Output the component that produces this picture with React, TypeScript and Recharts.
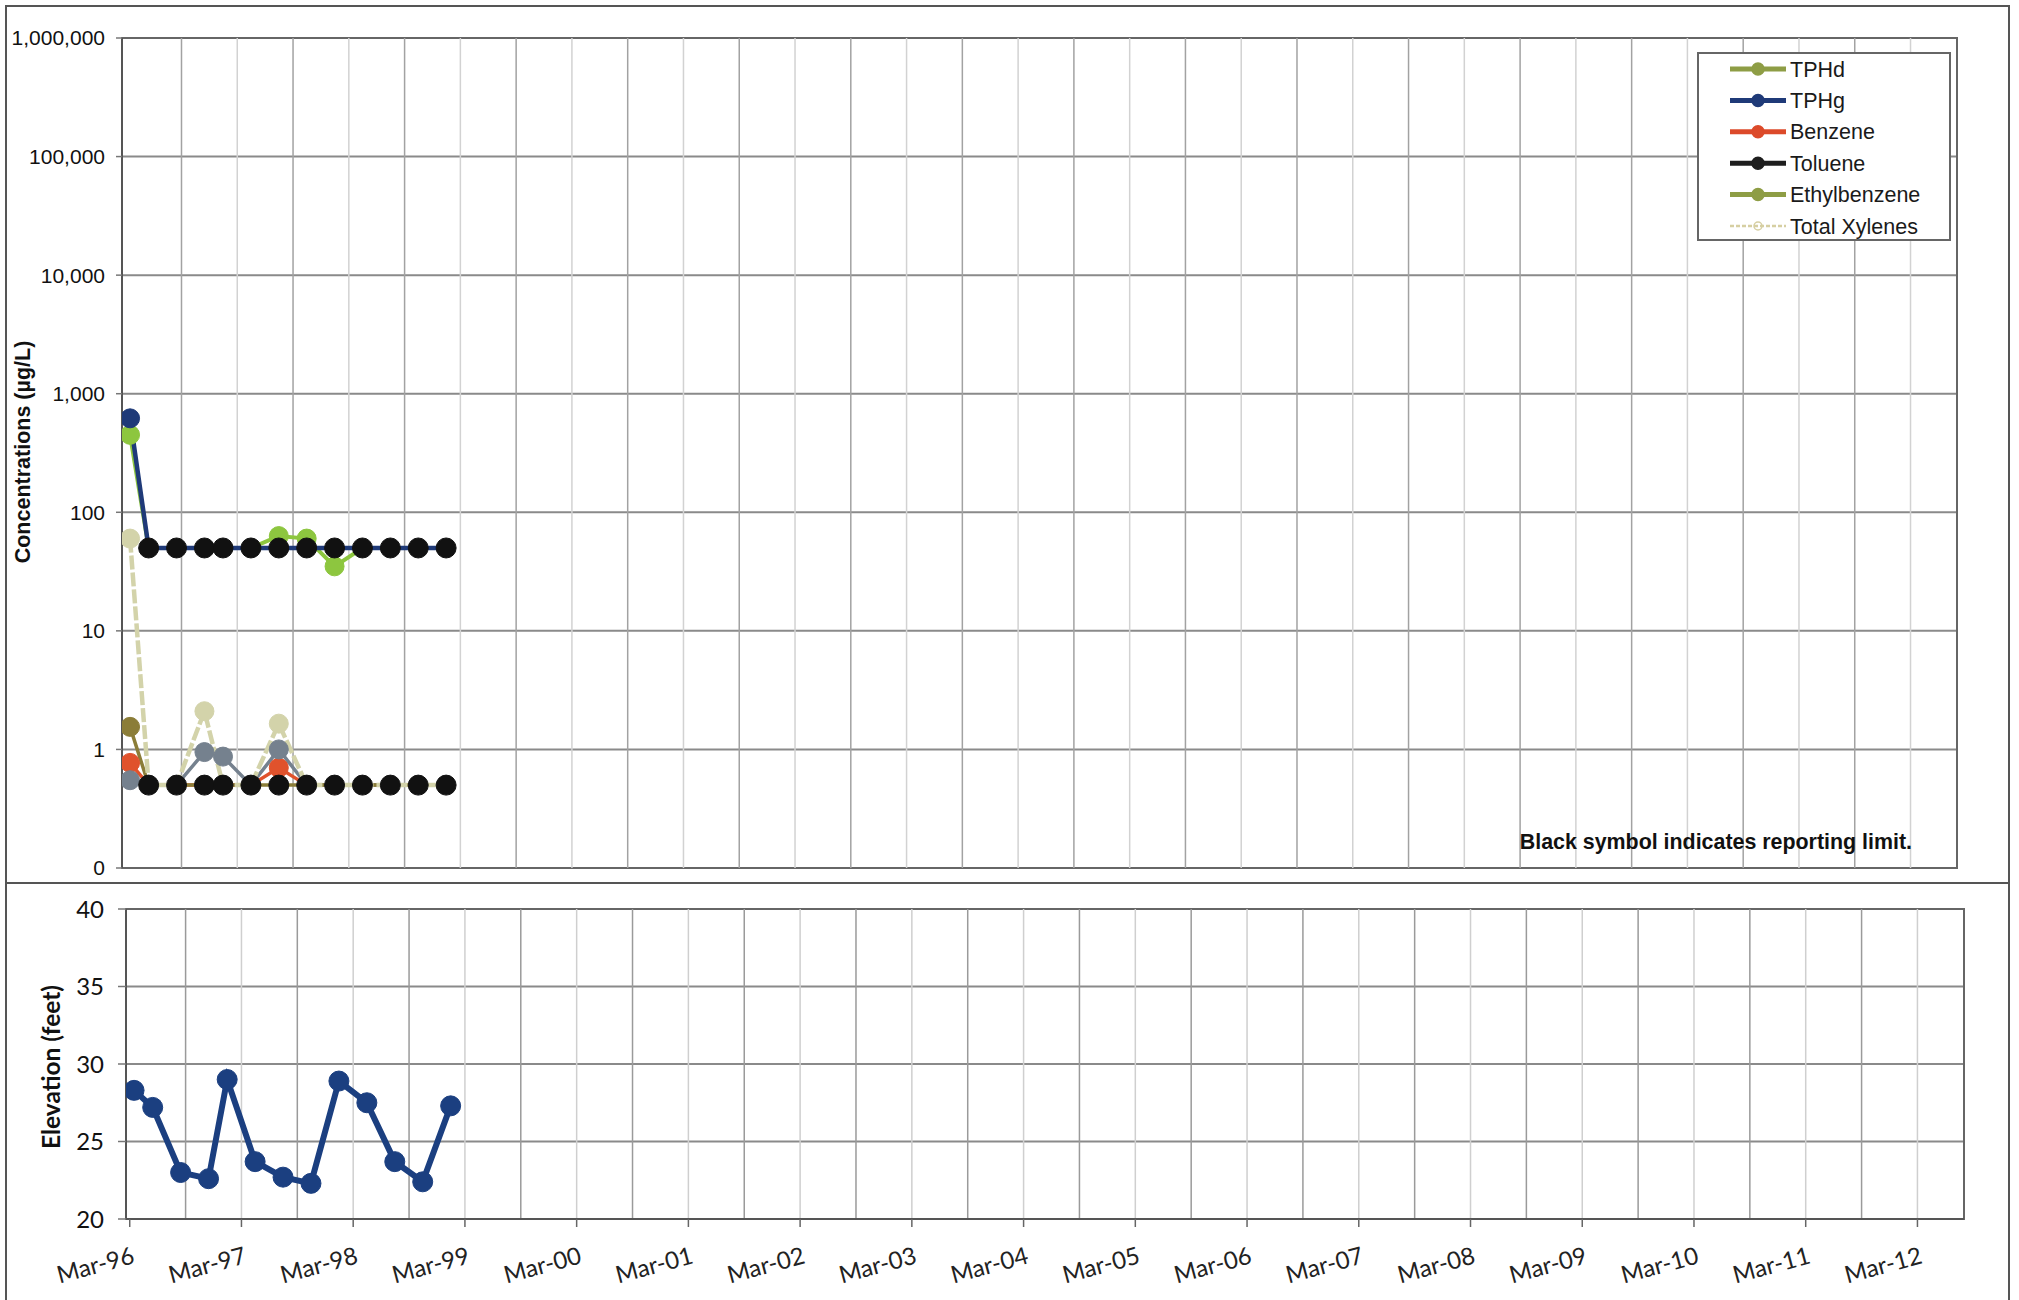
import React from "react";
import {
  LineChart,
  Line,
  XAxis,
  YAxis,
  CartesianGrid,
  ReferenceLine,
  ReferenceArea,
} from "recharts";

const ARIAL = '"Liberation Sans", Arial, sans-serif';
const CALIBRI = 'Lato, "Open Sans", sans-serif';

// quarterly monitoring events
const sampleDates = [
  "1996-03-15", "1996-05-15", "1996-08-15", "1996-11-15", "1997-01-15",
  "1997-04-15", "1997-07-15", "1997-10-15", "1998-01-15", "1998-04-15",
  "1998-07-15", "1998-10-15", "1999-01-15",
];

// concentrations in µg/L, "<x" = not detected above reporting limit x
const tphd = [450, "<50", "<50", "<50", "<50", "<50", 63, 60, 35, "<50", "<50", "<50", "<50"];
const tphg = [620, "<50", "<50", "<50", "<50", "<50", "<50", "<50", "<50", "<50", "<50", "<50", "<50"];
const benzene = [0.77, "<0.5", "<0.5", "<0.5", "<0.5", "<0.5", 0.7, "<0.5", "<0.5", "<0.5", "<0.5", "<0.5", "<0.5"];
const toluene = [0.55, "<0.5", "<0.5", 0.95, 0.87, "<0.5", 1.0, "<0.5", "<0.5", "<0.5", "<0.5", "<0.5", "<0.5"];
const ethylbenzene = [1.55, "<0.5", "<0.5", "<0.5", "<0.5", "<0.5", "<0.5", "<0.5", "<0.5", "<0.5", "<0.5", "<0.5", "<0.5"];
const xylenes = [60, "<0.5", "<0.5", 2.1, "<0.5", "<0.5", 1.65, "<0.5", "<0.5", "<0.5", "<0.5", "<0.5", "<0.5"];

// groundwater elevation, feet
const elevations = [28.3, 27.2, 23.0, 22.6, 29.0, 23.7, 22.7, 22.3, 28.9, 27.5, 23.7, 22.4, 27.3];

const yearLabels = [
  "Mar-96", "Mar-97", "Mar-98", "Mar-99", "Mar-00", "Mar-01", "Mar-02", "Mar-03", "Mar-04",
  "Mar-05", "Mar-06", "Mar-07", "Mar-08", "Mar-09", "Mar-10", "Mar-11", "Mar-12",
];
const concTicks = [0.1, 1, 10, 100, 1000, 10000, 100000, 1000000];
const concTickLabels = ["0", "1", "10", "100", "1,000", "10,000", "100,000", "1,000,000"];
const elevTicks = [20, 25, 30, 35, 40];

// x axis in months since Jan 1996
const X_MIN = 1.6;
const X_MAX = 199;

const toMonths = (iso: string) => {
  const [y, m, d] = iso.split("-").map(Number);
  return (y - 1996) * 12 + (m - 1) + (d - 1) / 30;
};
const labelToMonths = (lbl: string) => {
  const yy = Number(lbl.slice(4));
  const year = yy < 50 ? 2000 + yy : 1900 + yy;
  return (year - 1996) * 12 + 2;
};

const marchTicks = yearLabels.map(labelToMonths);
const marchLines = marchTicks.filter((t) => t > X_MIN + 1);
const septLines = marchTicks.map((t) => t + 6).filter((t) => t < X_MAX);

type Reading = number | string;
const parse = (r: Reading) =>
  typeof r === "number" ? { v: r, nd: false } : { v: Number(r.slice(1)), nd: true };

const analytes = [
  { key: "tphd", values: tphd, color: "#8dc63f", width: 4, dash: undefined },
  { key: "tphg", values: tphg, color: "#1f3a78", width: 4.5, dash: undefined },
  { key: "benzene", values: benzene, color: "#e0522c", width: 3.5, dash: undefined },
  { key: "toluene", values: toluene, color: "#75818e", width: 3.5, dash: undefined },
  { key: "ethylbenzene", values: ethylbenzene, color: "#8b7d38", width: 3.5, dash: undefined },
  { key: "xylenes", values: xylenes, color: "#d3d3aa", width: 4.5, dash: "14 3" },
];

const concData = sampleDates.map((d, i) => {
  const row: Record<string, any> = { t: toMonths(d) };
  let hi: number | null = null;
  let lo: number | null = null;
  analytes.forEach((a) => {
    const p = parse(a.values[i] as Reading);
    row[a.key] = p.v;
    row[a.key + "Nd"] = p.nd;
    if (p.nd) {
      if (p.v >= 10) hi = p.v;
      else lo = p.v;
    }
  });
  row.rlHigh = hi;
  row.rlLow = lo;
  return row;
});

const elevData = sampleDates.map((d, i) => ({ t: toMonths(d), elev: elevations[i] }));

const legendItems = [
  { name: "TPHd", color: "#8e9d45", dash: undefined },
  { name: "TPHg", color: "#1f3a78", dash: undefined },
  { name: "Benzene", color: "#dc4a2a", dash: undefined },
  { name: "Toluene", color: "#1e1e1e", dash: undefined },
  { name: "Ethylbenzene", color: "#8e9d45", dash: undefined },
  { name: "Total Xylenes", color: "#d6cfa2", dash: "4 2" },
];

const makeDot = (key: string, color: string) => (props: any) => {
  const { cx, cy, payload, index } = props;
  if (cx == null || cy == null || payload[key + "Nd"]) return <g key={`${key}-${index}`} />;
  return <circle key={`${key}-${index}`} cx={cx} cy={cy} r={9.5} fill={color} stroke={color} strokeWidth={1} />;
};

const ndDot = (key: string) => (props: any) => {
  const { cx, cy, index } = props;
  if (cx == null || cy == null || Number.isNaN(cy)) return <g key={`${key}-${index}`} />;
  return <circle key={`${key}-${index}`} cx={cx} cy={cy} r={10} fill="#111" stroke="#111" />;
};

const elevDot = (props: any) => {
  const { cx, cy, index } = props;
  if (cx == null || cy == null) return <g key={`e-${index}`} />;
  return <circle key={`e-${index}`} cx={cx} cy={cy} r={10} fill="#1b3f80" stroke="#1b3f80" />;
};

const MonthTick = (props: any) => {
  const { x, y, payload } = props;
  const i = marchTicks.indexOf(payload.value);
  const tx = x + 6;
  const ty = y + 34;
  return (
    <text
      x={tx}
      y={ty}
      textAnchor="end"
      transform={`rotate(-15 ${tx} ${ty})`}
      fontSize={24}
      fontFamily={CALIBRI}
      fill="#222"
    >
      {i >= 0 ? yearLabels[i] : ""}
    </text>
  );
};

function ConcentrationChart() {
  return (
    <LineChart
      width={2019}
      height={883}
      data={concData}
      margin={{ top: 38, right: 62, bottom: 15, left: 0 }}
    >
      <XAxis type="number" dataKey="t" domain={[X_MIN, X_MAX]} hide allowDataOverflow />
      <YAxis
        scale="log"
        domain={[0.1, 1000000]}
        ticks={concTicks}
        interval={0}
        allowDataOverflow
        width={122}
        tickSize={6}
        tickMargin={11}
        tickFormatter={(v: number) => concTickLabels[concTicks.indexOf(v)] ?? ""}
        axisLine={{ stroke: "#555", strokeWidth: 2 }}
        tickLine={{ stroke: "#777", strokeWidth: 1.5 }}
        tick={{ fontSize: 21, fill: "#111", fontFamily: ARIAL }}
      />
      <CartesianGrid vertical={false} stroke="#8a8a8a" strokeWidth={2} />
      {marchLines.map((v) => (
        <ReferenceLine key={`m${v}`} x={v} stroke="#d2d2d2" strokeWidth={1.5} />
      ))}
      {septLines.map((v) => (
        <ReferenceLine key={`s${v}`} x={v} stroke="#a2a2a2" strokeWidth={1.5} />
      ))}
      <ReferenceArea
        x1={X_MIN}
        x2={X_MAX}
        y1={0.1}
        y2={1000000}
        fill="none"
        stroke="#666"
        strokeWidth={2}
        ifOverflow="visible"
      />
      {analytes.map((a) => (
        <Line
          key={a.key}
          type="linear"
          dataKey={a.key}
          stroke={a.color}
          strokeWidth={a.width}
          strokeDasharray={a.dash}
          dot={makeDot(a.key, a.color)}
          activeDot={false}
          isAnimationActive={false}
        />
      ))}
      <Line
        dataKey="rlHigh"
        stroke="none"
        dot={ndDot("rlHigh")}
        activeDot={false}
        isAnimationActive={false}
      />
      <Line
        dataKey="rlLow"
        stroke="none"
        dot={ndDot("rlLow")}
        activeDot={false}
        isAnimationActive={false}
      />
    </LineChart>
  );
}

function ElevationChart() {
  return (
    <LineChart
      width={2019}
      height={417}
      data={elevData}
      margin={{ top: 26, right: 55, bottom: 0, left: 0 }}
    >
      <XAxis
        type="number"
        dataKey="t"
        domain={[X_MIN, X_MAX]}
        ticks={marchTicks}
        interval={0}
        allowDataOverflow
        height={81}
        tickSize={8}
        axisLine={{ stroke: "#555", strokeWidth: 2 }}
        tickLine={{ stroke: "#666", strokeWidth: 1.5 }}
        tick={<MonthTick />}
      />
      <YAxis
        domain={[20, 40]}
        ticks={elevTicks}
        interval={0}
        width={126}
        tickSize={8}
        tickMargin={14}
        axisLine={{ stroke: "#555", strokeWidth: 2 }}
        tickLine={{ stroke: "#777", strokeWidth: 1.5 }}
        tick={{ fontSize: 24, fill: "#111", fontFamily: CALIBRI }}
      />
      <CartesianGrid vertical={false} stroke="#8a8a8a" strokeWidth={2} />
      {marchLines.map((v) => (
        <ReferenceLine key={`m${v}`} x={v} stroke="#cfcfcf" strokeWidth={1.5} />
      ))}
      {septLines.map((v) => (
        <ReferenceLine key={`s${v}`} x={v} stroke="#9a9a9a" strokeWidth={1.5} />
      ))}
      <ReferenceArea
        x1={X_MIN}
        x2={X_MAX}
        y1={20}
        y2={40}
        fill="none"
        stroke="#666"
        strokeWidth={2}
        ifOverflow="visible"
      />
      <Line
        type="linear"
        dataKey="elev"
        stroke="#1b3f80"
        strokeWidth={6}
        dot={elevDot}
        activeDot={false}
        isAnimationActive={false}
      />
    </LineChart>
  );
}

function Overlay() {
  const rowY = (i: number) => 16 + i * 31.4;
  return (
    <svg
      width={2019}
      height={1300}
      style={{ position: "absolute", left: 0, top: 0, pointerEvents: "none" }}
    >
      <path d="M6,1300 V6 H2009 V1300" fill="none" stroke="#555" strokeWidth={2} />
      <path d="M6,883 H2009" fill="none" stroke="#555" strokeWidth={2} />
      <text
        x={30}
        y={452}
        transform="rotate(-90 30 452)"
        textAnchor="middle"
        fontSize={21.5}
        fontWeight="bold"
        fontFamily={ARIAL}
        fill="#111"
      >
        Concentrations (µg/L)
      </text>
      <text
        x={60}
        y={1067}
        transform="rotate(-90 60 1067)"
        textAnchor="middle"
        fontSize={24.5}
        fontWeight="bold"
        fontFamily={CALIBRI}
        fill="#111"
      >
        Elevation (feet)
      </text>
      <text
        x={1912}
        y={849}
        textAnchor="end"
        fontSize={21.4}
        fontWeight="bold"
        fontFamily={ARIAL}
        fill="#111"
      >
        Black symbol indicates reporting limit.
      </text>
      <g transform="translate(1698,53)">
        <rect x={0} y={0} width={252} height={187} fill="#fff" stroke="#666" strokeWidth={2} />
        {legendItems.map((it, i) => (
          <g key={it.name}>
            <line
              x1={32}
              x2={88}
              y1={rowY(i)}
              y2={rowY(i)}
              stroke={it.color}
              strokeWidth={it.dash ? 2.5 : 5}
              strokeDasharray={it.dash}
            />
            <circle
              cx={60}
              cy={rowY(i)}
              r={it.dash ? 4 : 6}
              fill={it.dash ? "none" : it.color}
              stroke={it.color}
              strokeWidth={1.5}
            />
            <text x={92} y={rowY(i) + 7.5} fontSize={21.5} fontFamily={ARIAL} fill="#1a1a1a">
              {it.name}
            </text>
          </g>
        ))}
      </g>
    </svg>
  );
}

export default function App() {
  return (
    <div
      style={{
        position: "absolute",
        left: 0,
        top: 0,
        width: 2019,
        height: 1300,
        overflow: "hidden",
        background: "#fff",
      }}
    >
      <div style={{ position: "absolute", left: 0, top: 0 }}>
        <ConcentrationChart />
      </div>
      <div style={{ position: "absolute", left: 0, top: 883 }}>
        <ElevationChart />
      </div>
      <Overlay />
    </div>
  );
}
